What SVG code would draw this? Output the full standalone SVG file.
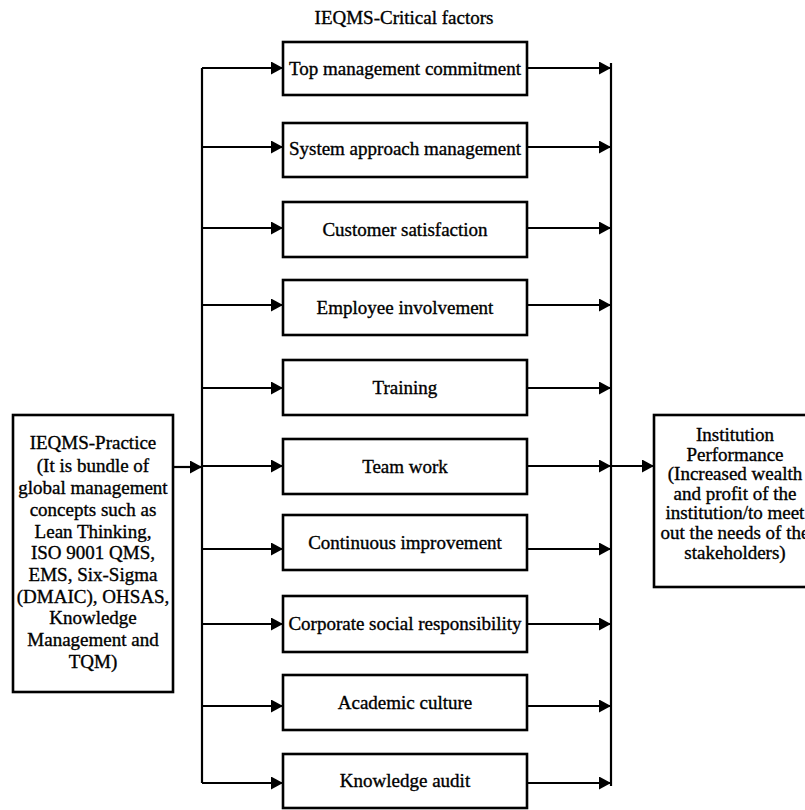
<svg xmlns="http://www.w3.org/2000/svg" width="805" height="810" viewBox="0 0 805 810">
<style>
.box{fill:#fff;stroke:#000;stroke-width:2.6}
.ln{fill:none;stroke:#000;stroke-width:2.2}
.ar{marker-end:url(#ah)}
text{font-family:"Liberation Serif","Times New Roman",serif;font-size:19px;fill:#000;stroke:#000;stroke-width:0.35;text-anchor:middle}
</style>
<defs>
<marker id="ah" markerUnits="userSpaceOnUse" markerWidth="12" markerHeight="13" refX="12" refY="6.5" orient="auto">
<path d="M0,0 L12,6.5 L0,13 z" fill="#000"/>
</marker>
</defs>
<rect width="805" height="810" fill="#fff"/>
<text x="404" y="24">IEQMS-Critical factors</text>
<g id="connectors">
<path class="ln" d="M202,68 V783"/>
<path class="ln" d="M611,63 V786"/>
<path class="ln ar" d="M173,467 H202"/>
<path class="ln ar" d="M611,466 H654"/>
<path class="ln ar" d="M202,68 H283"/>
<path class="ln ar" d="M202,147 H283"/>
<path class="ln ar" d="M202,228 H283"/>
<path class="ln ar" d="M202,305 H283"/>
<path class="ln ar" d="M202,388 H283"/>
<path class="ln ar" d="M202,466 H283"/>
<path class="ln ar" d="M202,549 H283"/>
<path class="ln ar" d="M202,624 H283"/>
<path class="ln ar" d="M202,706 H283"/>
<path class="ln ar" d="M202,783 H283"/>
<path class="ln ar" d="M527,68 H611"/>
<path class="ln ar" d="M527,147 H611"/>
<path class="ln ar" d="M527,228 H611"/>
<path class="ln ar" d="M527,305 H611"/>
<path class="ln ar" d="M527,388 H611"/>
<path class="ln ar" d="M527,466 H611"/>
<path class="ln ar" d="M527,549 H611"/>
<path class="ln ar" d="M527,624 H611"/>
<path class="ln ar" d="M527,706 H611"/>
<path class="ln ar" d="M527,783 H611"/>
</g>
<g id="practice">
<rect class="box" x="13" y="415" width="160" height="277"/>
<text x="93" y="449">IEQMS-Practice</text>
<text x="93" y="472">(It is bundle of</text>
<text x="93" y="494">global management</text>
<text x="93" y="516">concepts such as</text>
<text x="93" y="538">Lean Thinking,</text>
<text x="93" y="559">ISO 9001 QMS,</text>
<text x="93" y="581">EMS, Six-Sigma</text>
<text x="93" y="603">(DMAIC), OHSAS,</text>
<text x="93" y="624">Knowledge</text>
<text x="93" y="646">Management and</text>
<text x="93" y="668">TQM)</text>
</g>
<g id="f1"><rect class="box" x="283" y="42" width="244" height="53"/><text x="405" y="75">Top management commitment</text></g>
<g id="f2"><rect class="box" x="283" y="123" width="244" height="54"/><text x="405" y="155">System approach management</text></g>
<g id="f3"><rect class="box" x="283" y="202" width="244" height="55"/><text x="405" y="236">Customer satisfaction</text></g>
<g id="f4"><rect class="box" x="283" y="280" width="244" height="55"/><text x="405" y="314">Employee involvement</text></g>
<g id="f5"><rect class="box" x="283" y="360" width="244" height="55"/><text x="405" y="394">Training</text></g>
<g id="f6"><rect class="box" x="283" y="439" width="244" height="55"/><text x="405" y="473">Team work</text></g>
<g id="f7"><rect class="box" x="283" y="515" width="244" height="55"/><text x="405" y="549">Continuous improvement</text></g>
<g id="f8"><rect class="box" x="283" y="596" width="244" height="56"/><text x="405" y="630">Corporate social responsibility</text></g>
<g id="f9"><rect class="box" x="283" y="675" width="244" height="55"/><text x="405" y="709">Academic culture</text></g>
<g id="f10"><rect class="box" x="283" y="754" width="244" height="54"/><text x="405" y="787">Knowledge audit</text></g>
<g id="performance">
<rect class="box" x="654" y="415" width="166" height="172"/>
<text x="735" y="441">Institution</text>
<text x="735" y="461">Performance</text>
<text x="735" y="480">(Increased wealth</text>
<text x="735" y="500">and profit of the</text>
<text x="735" y="519">institution/to meet</text>
<text x="735" y="539">out the needs of the</text>
<text x="735" y="559">stakeholders)</text>
</g>
</svg>
